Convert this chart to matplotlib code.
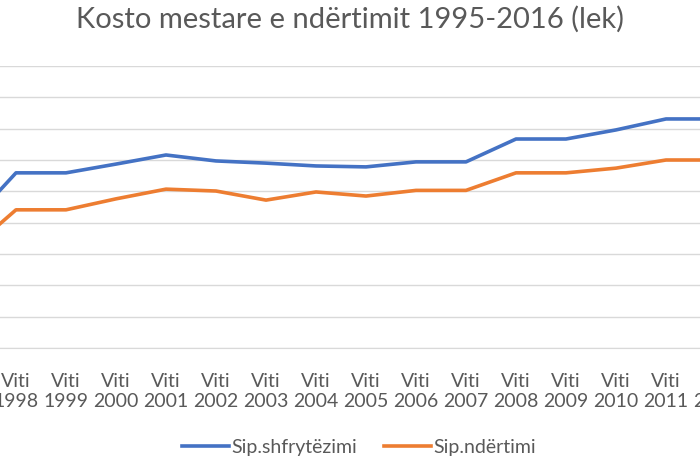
import matplotlib
matplotlib.use("Agg")
import matplotlib.pyplot as plt

# Viti 1997 - 2012 (pjesa e dukshme e grafikut)
vitet = [1997, 1998, 1999, 2000, 2001, 2002, 2003, 2004,
         2005, 2006, 2007, 2008, 2009, 2010, 2011, 2012]
etiketat = [f"Viti\n{v}" for v in vitet]

sip_shfrytezimi = [38600, 55900, 55900, 58700, 61600, 59700, 59000, 58100,
                   57800, 59400, 59400, 66700, 66700, 69600, 73100, 73100]
sip_ndertimi = [30200, 44100, 44100, 47600, 50700, 50100, 47200, 49800,
                48500, 50300, 50300, 55900, 55900, 57400, 60000, 60000]

plt.rcParams["font.family"] = ["Lato", "DejaVu Sans"]
gri = "#595959"

W, H = 700, 460
fig = plt.figure(figsize=(7, 4.6), dpi=100)

# boshti shtrihet pertej kufijve te figures (pamje e prere)
x0 = -59
ax = fig.add_axes([x0 / W, 1 - 349 / H, 800 / W, (349 - 67) / H])

x = list(range(len(vitet)))
ax.plot(x, sip_shfrytezimi, color="#4472C4", linewidth=2.6, label="Sip.shfrytëzimi",
        solid_joinstyle="round", clip_on=False)
ax.plot(x, sip_ndertimi, color="#ED7D31", linewidth=2.6, label="Sip.ndërtimi",
        solid_joinstyle="round", clip_on=False)

ax.set_xlim(-0.5, len(vitet) - 0.5)
ax.set_ylim(0, 90000)
ax.set_yticks(range(0, 90001, 10000))
ax.yaxis.grid(True, color="#d9d9d9", linewidth=1)
ax.set_axisbelow(True)
for s in ["top", "right", "left"]:
    ax.spines[s].set_visible(False)
ax.spines["bottom"].set_color("#d9d9d9")
ax.set_yticklabels([])
ax.tick_params(axis="y", length=0)
ax.set_xticks(x)
ax.set_xticklabels(etiketat, color=gri, fontsize=14, linespacing=1.25)
ax.tick_params(axis="x", length=0, pad=17)

fig.text(0.5, 1 - 19 / H, "Kosto mestare e ndërtimit 1995-2016 (lek)",
         ha="center", va="center", fontsize=21, color=gri)

fig.legend(loc="center", bbox_to_anchor=(0.513, 1 - 448 / H), ncol=2, frameon=False,
           fontsize=14, labelcolor=gri, handlelength=2.45, columnspacing=1.35,
           handletextpad=0.12)

fig.savefig("out.png", dpi=100)
